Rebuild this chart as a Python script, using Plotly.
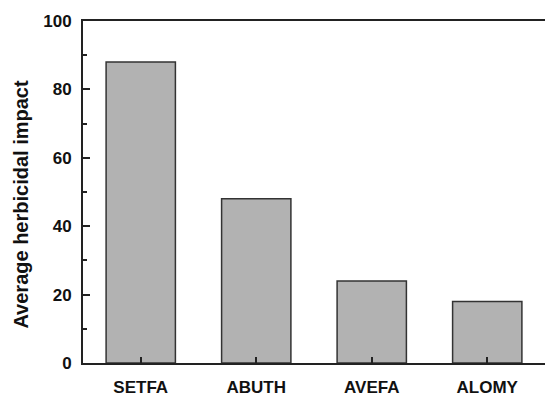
import plotly.graph_objects as go

# Weed species and their average herbicidal impact
species = ["SETFA", "ABUTH", "AVEFA", "ALOMY"]
impact = [88, 48, 24, 18]

y_ticks = [0, 20, 40, 60, 80, 100]
y_title = "Average herbicidal impact"

font_family = "Liberation Sans, Arial, sans-serif"
axis_color = "#222222"

fig = go.Figure(
    go.Bar(
        x=species,
        y=impact,
        width=0.6,
        marker=dict(color="#b2b2b2", line=dict(color="#333333", width=1.5)),
    )
)

fig.update_layout(
    width=545,
    height=396,
    margin=dict(l=83, r=0, t=21, b=33),
    paper_bgcolor="white",
    plot_bgcolor="white",
    showlegend=False,
    font=dict(family=font_family, color="#111111"),
)

fig.update_xaxes(
    range=[-0.5, 3.5],
    showline=True,
    linecolor=axis_color,
    linewidth=2,
    mirror=True,
    ticks="inside",
    ticklen=6,
    tickwidth=1.5,
    tickcolor=axis_color,
    showgrid=False,
    tickfont=dict(size=17, weight="bold"),
    ticklabelstandoff=8,
)

fig.update_yaxes(
    range=[0, 100],
    tickvals=y_ticks,
    showline=True,
    linecolor=axis_color,
    linewidth=2,
    ticks="inside",
    ticklen=7,
    tickwidth=1.5,
    tickcolor=axis_color,
    minor=dict(ticks="inside", ticklen=4, dtick=10, tick0=0, tickcolor=axis_color, tickwidth=1.5),
    showgrid=False,
    zeroline=False,
    tickfont=dict(size=17, weight="bold"),
    ticklabelstandoff=6,
)

# Vertical axis title, set slightly below the plot's mid-height
fig.add_annotation(
    text=y_title,
    textangle=-90,
    xref="paper",
    yref="paper",
    x=-0.135,
    y=0.465,
    xanchor="center",
    yanchor="middle",
    showarrow=False,
    font=dict(size=20, weight="bold"),
)

fig.write_html("out.html")
